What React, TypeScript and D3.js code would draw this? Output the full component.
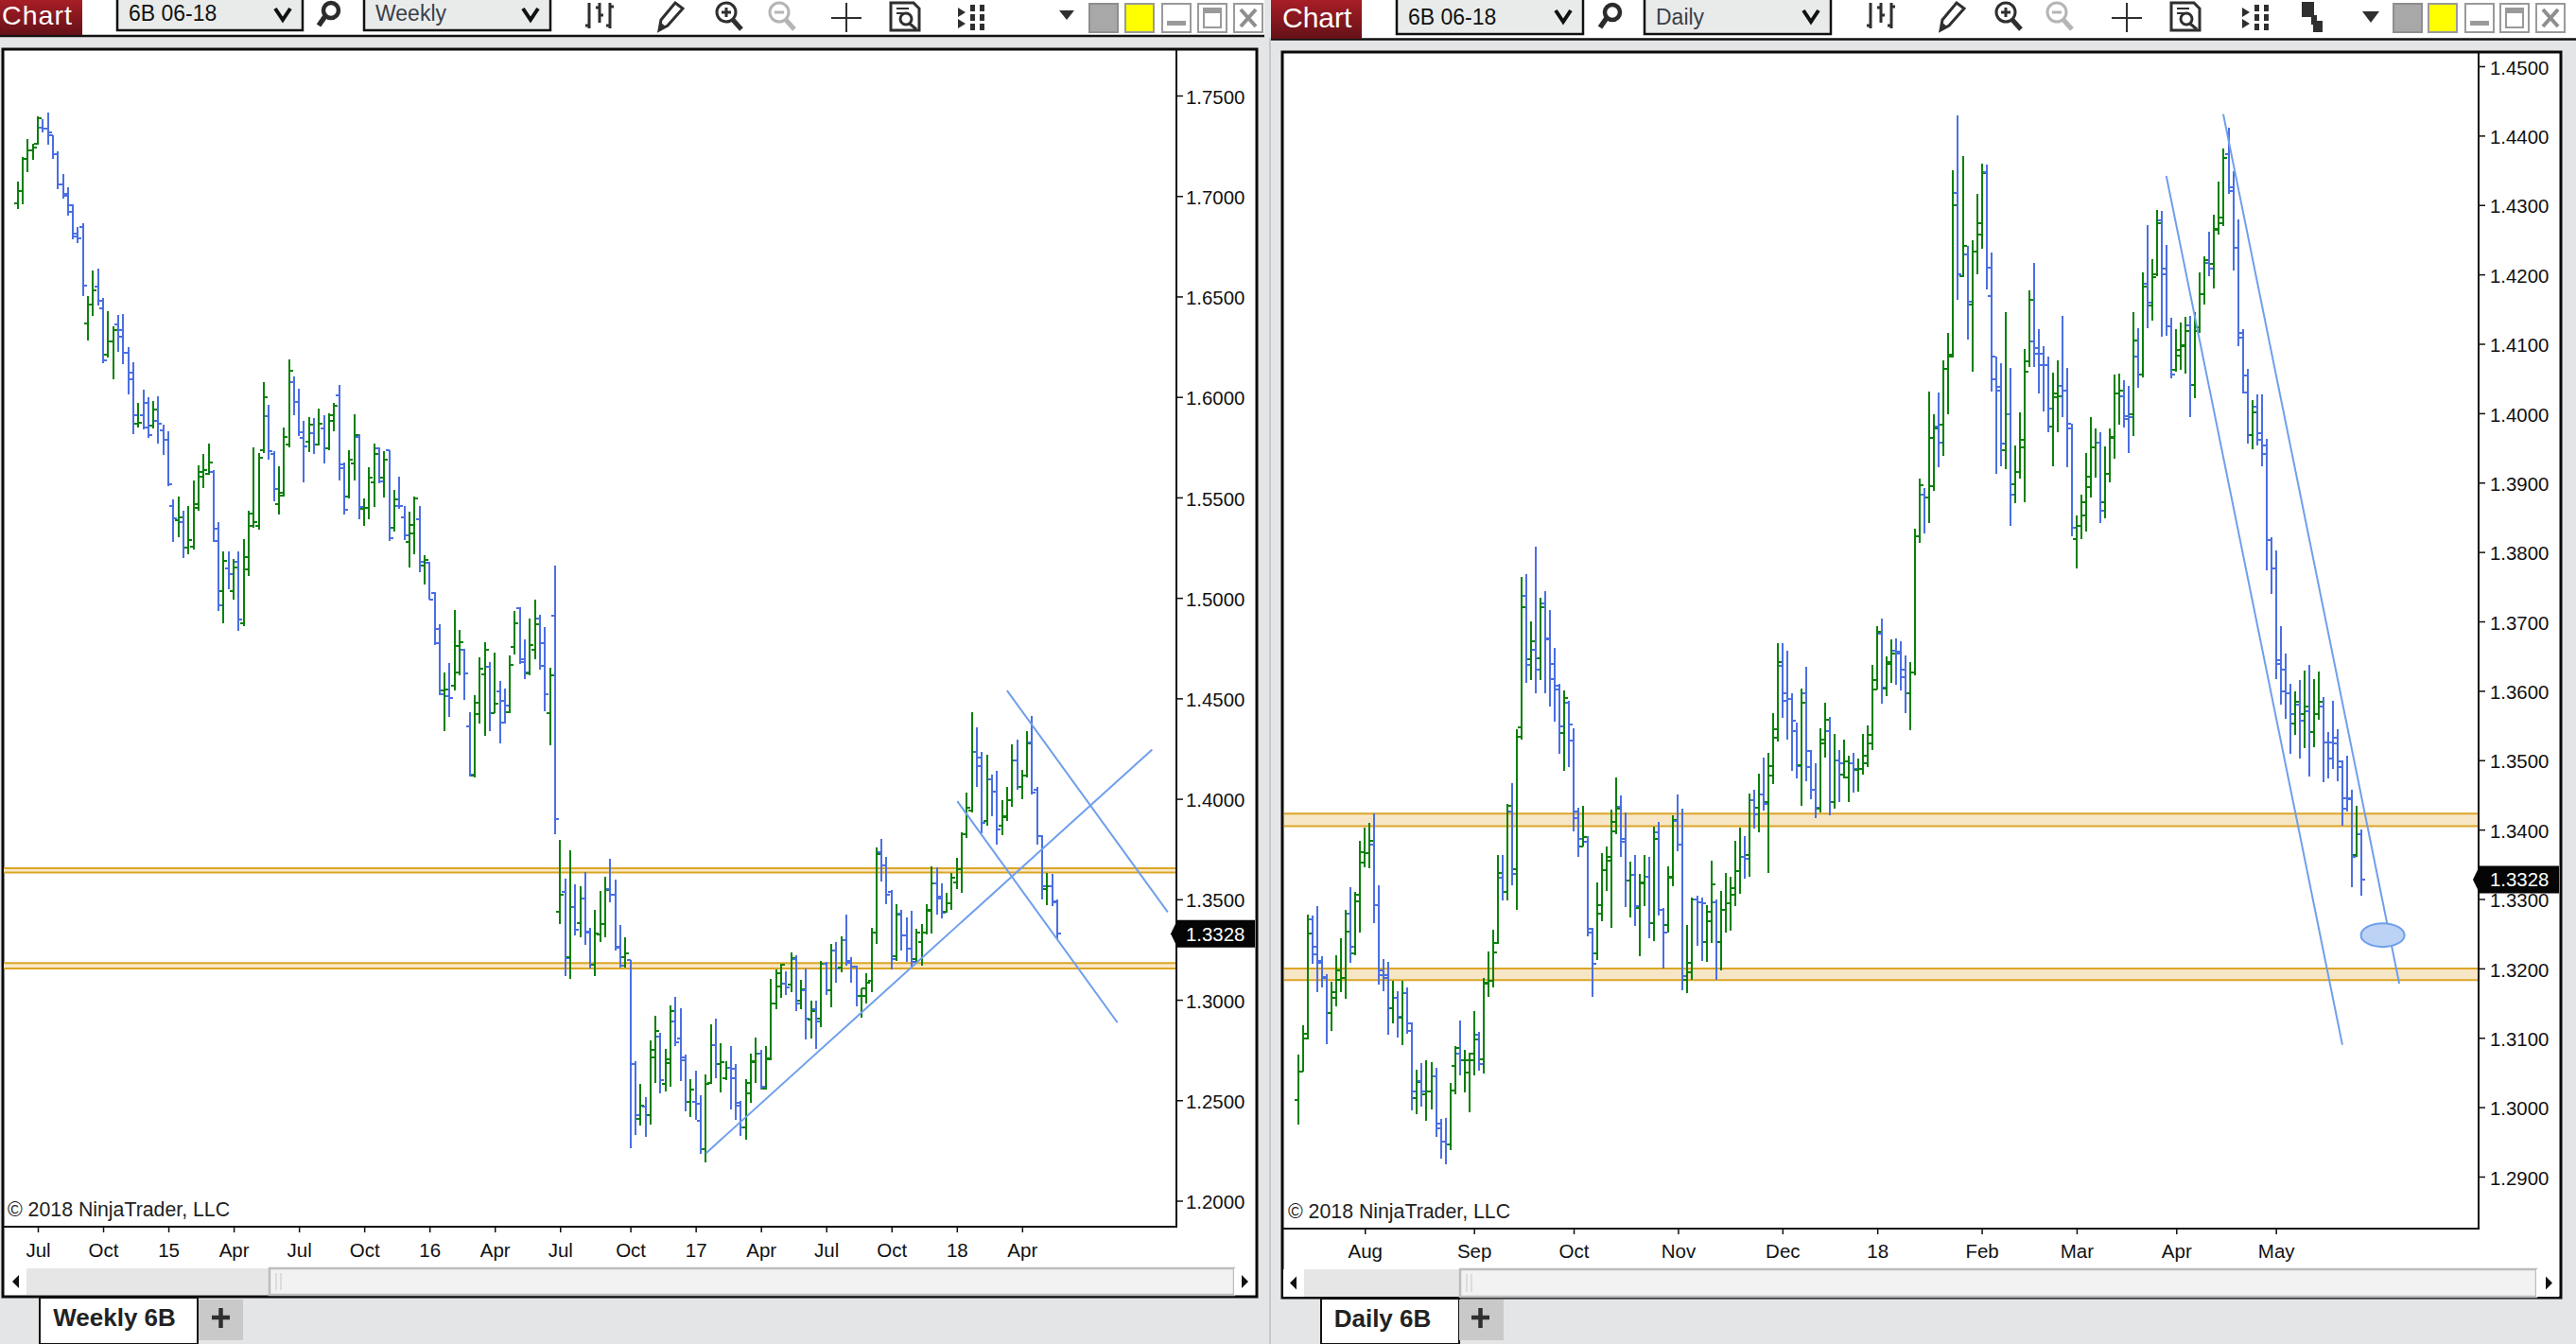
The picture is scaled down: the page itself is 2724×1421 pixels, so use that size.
import { useEffect, useRef } from 'react';
import * as d3 from 'd3';

// bars are [open, high, low, close]
const weeklyBars: number[][] = [
  [1.6963,1.7070,1.6937,1.7026],[1.7026,1.7196,1.6959,1.7186],[1.7186,1.7282,1.7120,1.7229],[1.7229,1.7262,1.7180,1.7243],
  [1.7260,1.7395,1.7257,1.7387],[1.7340,1.7384,1.7317,1.7335],[1.7335,1.7416,1.7254,1.7317],[1.7301,1.7304,1.7183,1.7207],
  [1.7207,1.7222,1.7034,1.7058],[1.7058,1.7108,1.6987,1.7000],[1.7010,1.7042,1.6900,1.6955],[1.6921,1.6960,1.6783,1.6811],
  [1.6798,1.6846,1.6764,1.6789],[1.6846,1.6864,1.6500,1.6555],[1.6367,1.6500,1.6280,1.6461],[1.6461,1.6630,1.6401,1.6532],
  [1.6550,1.6638,1.6453,1.6477],[1.6441,1.6495,1.6170,1.6181],[1.6210,1.6425,1.6194,1.6277],[1.6277,1.6350,1.6090,1.6335],
  [1.6362,1.6406,1.6225,1.6299],[1.6335,1.6411,1.6163,1.6221],[1.6221,1.6246,1.6013,1.6087],[1.6123,1.6175,1.5816,1.5908],
  [1.5867,1.5970,1.5849,1.5872],[1.5908,1.6034,1.5838,1.5849],[1.5971,1.5998,1.5794,1.5809],[1.5856,1.5979,1.5841,1.5938],
  [1.5883,1.6003,1.5767,1.5867],[1.5836,1.5864,1.5712,1.5789],[1.5789,1.5828,1.5555,1.5564],[1.5456,1.5492,1.5279,1.5397],
  [1.5386,1.5506,1.5302,1.5401],[1.5378,1.5436,1.5197,1.5249],[1.5249,1.5459,1.5217,1.5288],[1.5255,1.5582,1.5241,1.5467],
  [1.5448,1.5660,1.5436,1.5629],[1.5605,1.5718,1.5547,1.5637],[1.5616,1.5770,1.5613,1.5673],[1.5627,1.5634,1.5280,1.5283],
  [1.5343,1.5375,1.4935,1.4962],[1.5032,1.5233,1.4875,1.5185],[1.5145,1.5229,1.5043,1.5117],[1.5032,1.5192,1.4993,1.5150],
  [1.5180,1.5229,1.4836,1.4891],[1.4872,1.5294,1.4860,1.5203],[1.5142,1.5433,1.5108,1.5420],[1.5357,1.5747,1.5351,1.5376],
  [1.5357,1.5723,1.5338,1.5699],[1.5734,1.6076,1.5723,1.5998],[1.5904,1.5959,1.5689,1.5728],[1.5718,1.5728,1.5480,1.5542],
  [1.5467,1.5657,1.5414,1.5522],[1.5508,1.5846,1.5506,1.5800],[1.5762,1.6186,1.5750,1.6131],[1.6073,1.6100,1.5908,1.5974],
  [1.5974,1.6040,1.5805,1.5825],[1.5797,1.5883,1.5574,1.5754],[1.5778,1.5900,1.5726,1.5861],[1.5820,1.5896,1.5715,1.5762],
  [1.5762,1.5943,1.5759,1.5867],[1.5841,1.5907,1.5668,1.5743],[1.5743,1.5919,1.5734,1.5907],[1.5880,1.5971,1.5830,1.5955],
  [1.6009,1.6061,1.5585,1.5645],[1.5665,1.5676,1.5414,1.5437],[1.5503,1.5737,1.5495,1.5687],[1.5668,1.5916,1.5585,1.5809],
  [1.5802,1.5813,1.5390,1.5451],[1.5444,1.5495,1.5359,1.5448],[1.5448,1.5649,1.5390,1.5597],[1.5574,1.5770,1.5451,1.5715],
  [1.5745,1.5751,1.5571,1.5580],[1.5597,1.5732,1.5499,1.5687],[1.5734,1.5737,1.5283,1.5299],[1.5349,1.5535,1.5331,1.5491],
  [1.5458,1.5601,1.5444,1.5456],[1.5401,1.5456,1.5288,1.5312],[1.5279,1.5428,1.5150,1.5362],[1.5323,1.5506,1.5217,1.5495],
  [1.5390,1.5456,1.5128,1.5180],[1.5161,1.5213,1.5065,1.5189],[1.5177,1.5181,1.4990,1.4990],[1.5024,1.5029,1.4765,1.4776],
  [1.4844,1.4871,1.4517,1.4522],[1.4540,1.4627,1.4337,1.4542],[1.4509,1.4674,1.4407,1.4500],[1.4561,1.4941,1.4538,1.4761],
  [1.4629,1.4839,1.4613,1.4778],[1.4742,1.4748,1.4491,1.4622],[1.4360,1.4433,1.4111,1.4122],[1.4117,1.4517,1.4106,1.4478],
  [1.4420,1.4703,1.4373,1.4648],[1.4619,1.4781,1.4313,1.4742],[1.4659,1.4679,1.4337,1.4425],[1.4425,1.4726,1.4425,1.4472],
  [1.4535,1.4585,1.4275,1.4381],[1.4488,1.4550,1.4376,1.4462],[1.4431,1.4715,1.4428,1.4666],[1.4754,1.4936,1.4718,1.4874],
  [1.4949,1.4955,1.4671,1.4695],[1.4682,1.4792,1.4596,1.4627],[1.4624,1.4899,1.4616,1.4765],[1.4742,1.4993,1.4695,1.4867],
  [1.4896,1.4918,1.4644,1.4663],[1.4773,1.4856,1.4436,1.4519],[1.4425,1.4651,1.4266,1.4613],[1.4911,1.5163,1.3823,1.3899],
  [1.3437,1.3794,1.3378,1.3525],[1.3537,1.3605,1.3117,1.3208],[1.3211,1.3743,1.3105,1.3460],[1.3463,1.3576,1.3319,1.3348],
  [1.3383,1.3563,1.3309,1.3503],[1.3503,1.3635,1.3275,1.3336],[1.3340,1.3357,1.3156,1.3174],[1.3174,1.3446,1.3117,1.3331],
  [1.3326,1.3540,1.3288,1.3379],[1.3379,1.3611,1.3311,1.3545],[1.3551,1.3700,1.3486,1.3525],[1.3525,1.3600,1.3246,1.3258],
  [1.3266,1.3374,1.3160,1.3168],[1.3211,1.3309,1.3160,1.3232],[1.3199,1.3199,1.2260,1.2680],[1.2680,1.2692,1.2329,1.2426],
  [1.2406,1.2581,1.2375,1.2474],[1.2466,1.2517,1.2317,1.2428],[1.2426,1.2800,1.2380,1.2749],[1.2714,1.2920,1.2586,1.2843],
  [1.2817,1.2834,1.2534,1.2599],[1.2582,1.2754,1.2543,1.2702],[1.2685,1.2971,1.2565,1.2946],[1.2891,1.3014,1.2769,1.2788],
  [1.2808,1.2958,1.2594,1.2697],[1.2714,1.2726,1.2445,1.2491],[1.2491,1.2603,1.2418,1.2551],[1.2491,1.2646,1.2401,1.2483],
  [1.2397,1.2526,1.2234,1.2255],[1.2255,1.2629,1.2191,1.2582],[1.2586,1.2880,1.2582,1.2774],[1.2774,1.2908,1.2611,1.2680],
  [1.2680,1.2786,1.2538,1.2688],[1.2611,1.2692,1.2599,1.2663],[1.2663,1.2769,1.2452,1.2608],[1.2658,1.2680,1.2402,1.2474],
  [1.2488,1.2497,1.2323,1.2366],[1.2366,1.2603,1.2303,1.2586],[1.2534,1.2731,1.2486,1.2692],[1.2688,1.2814,1.2586,1.2731],
  [1.2731,1.2749,1.2551,1.2565],[1.2560,1.2769,1.2551,1.2702],[1.2709,1.3103,1.2697,1.2983],[1.2983,1.3151,1.2954,1.3131],
  [1.3066,1.3177,1.3011,1.3174],[1.3079,1.3143,1.3023,1.3062],[1.3074,1.3234,1.3040,1.3208],[1.3203,1.3223,1.2946,1.2983],
  [1.2994,1.3100,1.2951,1.3052],[1.3048,1.3156,1.2803,1.2908],[1.2903,1.2997,1.2808,1.2946],[1.2951,1.2994,1.2754,1.2894],
  [1.2908,1.3194,1.2865,1.3177],[1.3180,1.3189,1.3023,1.3048],[1.3048,1.3276,1.2963,1.3246],[1.3246,1.3285,1.3083,1.3155],
  [1.3160,1.3314,1.3138,1.3297],[1.3297,1.3422,1.3172,1.3182],[1.3194,1.3211,1.3083,1.3165],[1.3165,1.3168,1.2968,1.3019],
  [1.3019,1.3057,1.2911,1.3057],[1.3018,1.3134,1.2983,1.3086],[1.3095,1.3357,1.3040,1.3333],[1.3333,1.3759,1.3280,1.3723],
  [1.3734,1.3801,1.3589,1.3668],[1.3669,1.3713,1.3477,1.3525],[1.3537,1.3545,1.3151,1.3203],[1.3216,1.3474,1.3194,1.3426],
  [1.3429,1.3446,1.3246,1.3319],[1.3319,1.3408,1.3189,1.3254],[1.3254,1.3445,1.3166,1.3189],[1.3203,1.3354,1.3177,1.3336],
  [1.3288,1.3377,1.3172,1.3336],[1.3336,1.3476,1.3323,1.3446],[1.3445,1.3665,1.3330,1.3581],[1.3581,1.3657,1.3424,1.3511],
  [1.3503,1.3581,1.3406,1.3432],[1.3440,1.3534,1.3432,1.3479],[1.3479,1.3632,1.3448,1.3608],[1.3586,1.3704,1.3550,1.3652],
  [1.3652,1.3833,1.3531,1.3825],[1.3825,1.4029,1.3806,1.3958],[1.3942,1.4429,1.3931,1.4233],[1.4233,1.4358,1.4057,1.4206],
  [1.4162,1.4233,1.3828,1.3880],[1.3891,1.4217,1.3867,1.4096],[1.4096,1.4120,1.3911,1.4037],[1.4037,1.4137,1.3770,1.3848],
  [1.3867,1.3993,1.3820,1.3911],[1.3908,1.4057,1.3891,1.3994],[1.3994,1.4269,1.3961,1.4193],[1.4193,1.4296,1.4044,1.4057],
  [1.4057,1.4142,1.3997,1.4115],[1.4118,1.4335,1.4107,1.4275],[1.4280,1.4410,1.4021,1.4029],[1.4044,1.4060,1.3770,1.3814],
  [1.3814,1.3817,1.3500,1.3563],[1.3553,1.3633,1.3472,1.3563],[1.3563,1.3624,1.3464,1.3487],[1.3490,1.3500,1.3302,1.3328],
];

const dailyBars: number[][] = [
  [1.3010,1.3076,1.2975,1.3051],[1.3051,1.3118,1.3051,1.3106],[1.3099,1.3278,1.3098,1.3250],[1.3271,1.3276,1.3206,1.3231],
  [1.3220,1.3290,1.3166,1.3208],[1.3211,1.3217,1.3173,1.3186],[1.3188,1.3192,1.3091,1.3136],[1.3136,1.3181,1.3110,1.3166],
  [1.3157,1.3219,1.3145,1.3197],[1.3183,1.3244,1.3166,1.3186],[1.3186,1.3284,1.3156,1.3253],[1.3279,1.3317,1.3208,1.3231],
  [1.3222,1.3310,1.3219,1.3296],[1.3306,1.3384,1.3252,1.3367],[1.3353,1.3403,1.3346,1.3366],[1.3366,1.3410,1.3344,1.3384],
  [1.3379,1.3423,1.3265,1.3291],[1.3291,1.3320,1.3177,1.3197],[1.3190,1.3214,1.3167,1.3186],[1.3190,1.3209,1.3104,1.3142],
  [1.3142,1.3182,1.3121,1.3157],[1.3157,1.3167,1.3101,1.3130],[1.3129,1.3182,1.3090,1.3164],[1.3164,1.3173,1.3106,1.3110],
  [1.3121,1.3122,1.2996,1.3023],[1.3013,1.3054,1.2990,1.3036],[1.3037,1.3063,1.3001,1.3023],[1.3019,1.3068,1.2980,1.3023],
  [1.3023,1.3065,1.2997,1.3045],[1.3045,1.3057,1.2957,1.2970],[1.2977,1.2983,1.2926,1.2951],[1.2951,1.2984,1.2918,1.2947],
  [1.2946,1.3035,1.2938,1.3024],[1.3060,1.3088,1.3018,1.3085],[1.3077,1.3125,1.3046,1.3067],[1.3067,1.3083,1.3021,1.3068],
  [1.3050,1.3079,1.2993,1.3077],[1.3068,1.3139,1.3046,1.3098],[1.3105,1.3109,1.3053,1.3062],[1.3069,1.3186,1.3048,1.3178],
  [1.3180,1.3225,1.3159,1.3182],[1.3182,1.3256,1.3172,1.3223],[1.3237,1.3363,1.3235,1.3338],[1.3331,1.3363,1.3298,1.3310],
  [1.3310,1.3437,1.3298,1.3434],[1.3426,1.3467,1.3320,1.3336],[1.3343,1.3545,1.3285,1.3534],[1.3548,1.3764,1.3530,1.3720],
  [1.3737,1.3768,1.3612,1.3637],[1.3645,1.3700,1.3616,1.3671],[1.3659,1.3808,1.3597,1.3631],[1.3647,1.3734,1.3616,1.3720],
  [1.3726,1.3743,1.3596,1.3674],[1.3675,1.3717,1.3578,1.3639],[1.3617,1.3662,1.3555,1.3602],[1.3608,1.3610,1.3509,1.3549],
  [1.3539,1.3600,1.3484,1.3590],[1.3583,1.3585,1.3490,1.3551],[1.3528,1.3546,1.3397,1.3417],[1.3426,1.3431,1.3360,1.3386],
  [1.3376,1.3434,1.3375,1.3389],[1.3382,1.3391,1.3246,1.3257],[1.3251,1.3259,1.3159,1.3206],[1.3222,1.3324,1.3212,1.3291],
  [1.3279,1.3366,1.3268,1.3341],[1.3342,1.3375,1.3312,1.3361],[1.3355,1.3429,1.3258,1.3411],[1.3397,1.3475,1.3393,1.3430],
  [1.3433,1.3449,1.3360,1.3382],[1.3387,1.3425,1.3288,1.3327],[1.3327,1.3354,1.3274,1.3335],[1.3335,1.3363,1.3261,1.3290],
  [1.3287,1.3336,1.3218,1.3324],[1.3322,1.3363,1.3290,1.3332],[1.3332,1.3361,1.3244,1.3265],[1.3265,1.3404,1.3240,1.3386],
  [1.3396,1.3411,1.3276,1.3284],[1.3284,1.3287,1.3200,1.3252],[1.3262,1.3347,1.3251,1.3332],[1.3330,1.3420,1.3319,1.3414],
  [1.3413,1.3451,1.3369,1.3378],[1.3378,1.3430,1.3168,1.3189],[1.3183,1.3262,1.3164,1.3208],[1.3195,1.3302,1.3184,1.3299],
  [1.3299,1.3305,1.3233,1.3295],[1.3295,1.3302,1.3211,1.3294],[1.3238,1.3291,1.3209,1.3282],[1.3268,1.3355,1.3236,1.3321],
  [1.3295,1.3299,1.3184,1.3238],[1.3238,1.3311,1.3197,1.3285],[1.3285,1.3337,1.3252,1.3294],[1.3294,1.3332,1.3255,1.3315],
  [1.3306,1.3384,1.3290,1.3340],[1.3340,1.3403,1.3307,1.3360],[1.3360,1.3390,1.3329,1.3358],[1.3364,1.3452,1.3332,1.3442],
  [1.3442,1.3458,1.3402,1.3422],[1.3431,1.3481,1.3396,1.3451],[1.3451,1.3504,1.3428,1.3437],[1.3440,1.3510,1.3338,1.3492],
  [1.3478,1.3568,1.3465,1.3544],[1.3533,1.3668,1.3527,1.3642],[1.3636,1.3668,1.3561,1.3586],[1.3596,1.3658,1.3530,1.3588],
  [1.3588,1.3597,1.3485,1.3557],[1.3542,1.3554,1.3474,1.3491],[1.3493,1.3603,1.3434,1.3583],[1.3597,1.3635,1.3469,1.3490],
  [1.3513,1.3515,1.3444,1.3458],[1.3457,1.3495,1.3416,1.3431],[1.3430,1.3546,1.3425,1.3529],[1.3524,1.3583,1.3504,1.3558],
  [1.3542,1.3562,1.3420,1.3440],[1.3440,1.3538,1.3430,1.3499],[1.3499,1.3515,1.3440,1.3495],[1.3479,1.3529,1.3474,1.3498],
  [1.3475,1.3506,1.3440,1.3496],[1.3495,1.3510,1.3454,1.3487],[1.3486,1.3502,1.3455,1.3487],[1.3487,1.3538,1.3479,1.3506],
  [1.3496,1.3550,1.3490,1.3537],[1.3524,1.3637,1.3515,1.3615],[1.3602,1.3693,1.3602,1.3685],[1.3682,1.3704,1.3582,1.3605],
  [1.3603,1.3650,1.3592,1.3642],[1.3639,1.3674,1.3612,1.3654],[1.3658,1.3675,1.3609,1.3657],[1.3654,1.3671,1.3600,1.3620],
  [1.3630,1.3651,1.3568,1.3597],[1.3597,1.3642,1.3543,1.3627],[1.3627,1.3833,1.3622,1.3822],[1.3822,1.3906,1.3813,1.3896],
  [1.3883,1.3892,1.3827,1.3878],[1.3878,1.4031,1.3842,1.3965],[1.3895,1.3998,1.3888,1.3978],[1.3981,1.4030,1.3922,1.3958],
  [1.3984,1.4076,1.3939,1.4064],[1.4064,1.4115,1.3999,1.4084],[1.4082,1.4350,1.4080,1.4300],[1.4318,1.4429,1.4164,1.4200],
  [1.4198,1.4370,1.4196,1.4241],[1.4229,1.4241,1.4106,1.4161],[1.4156,1.4249,1.4060,1.4233],[1.4233,1.4316,1.4200,1.4274],
  [1.4258,1.4360,1.4237,1.4346],[1.4348,1.4358,1.4179,1.4210],[1.4169,1.4231,1.4031,1.4081],[1.4049,1.4081,1.3913,1.4038],
  [1.4032,1.4072,1.3924,1.3956],[1.3946,1.4146,1.3920,1.3998],[1.3998,1.4065,1.3837,1.3883],[1.3898,1.3954,1.3871,1.3916],
  [1.3916,1.4001,1.3906,1.3962],[1.3951,1.4092,1.3872,1.4060],[1.4075,1.4177,1.4066,1.4164],[1.4103,1.4217,1.4067,1.4094],
  [1.4086,1.4121,1.4029,1.4069],[1.4086,1.4097,1.4002,1.4069],[1.4069,1.4081,1.3972,1.4006],[1.3981,1.4059,1.3924,1.4028],
  [1.4023,1.4076,1.3972,1.4024],[1.4040,1.4140,1.3995,1.4032],[1.4032,1.4065,1.3922,1.3985],[1.3978,1.3985,1.3822,1.3835],
  [1.3818,1.3852,1.3776,1.3838],[1.3838,1.3882,1.3818,1.3872],[1.3853,1.3942,1.3829,1.3894],[1.3908,1.3995,1.3878,1.3951],
  [1.3951,1.3978,1.3907,1.3958],[1.3958,1.3972,1.3842,1.3859],[1.3872,1.3952,1.3848,1.3912],[1.3912,1.3978,1.3900,1.3966],
  [1.3965,1.4056,1.3934,1.4028],[1.4029,1.4057,1.3984,1.4033],[1.4024,1.4048,1.3979,1.3991],[1.3996,1.4039,1.3942,1.3995],
  [1.3999,1.4146,1.3967,1.4105],[1.4081,1.4122,1.4036,1.4056],[1.4056,1.4203,1.4051,1.4183],[1.4187,1.4271,1.4123,1.4159],
  [1.4155,1.4222,1.4133,1.4196],[1.4200,1.4293,1.4197,1.4274],[1.4278,1.4292,1.4110,1.4208],[1.4200,1.4243,1.4111,1.4125],
  [1.4125,1.4138,1.4050,1.4056],[1.4062,1.4121,1.4060,1.4091],[1.4083,1.4130,1.4062,1.4096],[1.4098,1.4139,1.4057,1.4118],
  [1.4127,1.4140,1.3995,1.4041],[1.4041,1.4146,1.4021,1.4124],[1.4118,1.4203,1.4115,1.4171],[1.4171,1.4226,1.4156,1.4220],
  [1.4216,1.4262,1.4197,1.4209],[1.4215,1.4286,1.4180,1.4265],[1.4264,1.4334,1.4257,1.4274],[1.4282,1.4381,1.4269,1.4368],
  [1.4373,1.4412,1.4316,1.4326],[1.4320,1.4349,1.4205,1.4238],[1.4239,1.4279,1.4097,1.4116],[1.4109,1.4121,1.4028,1.4054],
  [1.4030,1.4064,1.3956,1.3969],[1.3968,1.4019,1.3948,1.4001],[1.4009,1.4027,1.3953,1.3961],[1.3971,1.4027,1.3923,1.3941],
  [1.3954,1.3963,1.3774,1.3817],[1.3817,1.3821,1.3740,1.3776],[1.3776,1.3802,1.3617,1.3644],[1.3639,1.3693,1.3580,1.3599],
  [1.3630,1.3654,1.3559,1.3596],[1.3596,1.3610,1.3509,1.3566],[1.3553,1.3599,1.3537,1.3584],[1.3580,1.3616,1.3503,1.3557],
  [1.3566,1.3629,1.3518,1.3577],[1.3571,1.3637,1.3477,1.3540],[1.3540,1.3617,1.3519,1.3566],[1.3566,1.3628,1.3558,1.3584],
  [1.3577,1.3591,1.3468,1.3526],[1.3526,1.3540,1.3474,1.3503],[1.3526,1.3586,1.3488,1.3524],[1.3532,1.3545,1.3469,1.3490],
  [1.3498,1.3500,1.3406,1.3430],[1.3445,1.3506,1.3426,1.3444],[1.3445,1.3457,1.3317,1.3361],[1.3364,1.3434,1.3361,1.3394],
  [1.3393,1.3400,1.3305,1.3328],
];

const lastPrice = 1.3328;

const weeklyPrices = [1.2, 1.25, 1.3, 1.35, 1.4, 1.45, 1.5, 1.55, 1.6, 1.65, 1.7, 1.75];
const dailyPrices = [1.29, 1.3, 1.31, 1.32, 1.33, 1.34, 1.35, 1.36, 1.37, 1.38, 1.39, 1.4, 1.41, 1.42, 1.43, 1.44, 1.45];

const weeklyTickBars = [4, 17, 30, 43, 56, 69, 82, 95, 108, 122, 135, 148, 161, 174, 187, 200];
const weeklyTickLabels = ['Jul', 'Oct', '15', 'Apr', 'Jul', 'Oct', '16', 'Apr', 'Jul', 'Oct', '17', 'Apr', 'Jul', 'Oct', '18', 'Apr'];
const dailyTickBars = [14, 37, 58, 80, 102, 122, 144, 164, 185, 206];
const dailyTickLabels = ['Aug', 'Sep', 'Oct', 'Nov', 'Dec', '18', 'Feb', 'Mar', 'Apr', 'May'];

// support zones as [top, bottom] prices
const weeklyZones = [[1.3655, 1.3633], [1.3183, 1.3156]];
const dailyZones = [[1.3423, 1.3405], [1.32, 1.3183]];

// drawn lines as [bar, price, bar, price]
const weeklyTrends = [
  [137.07, 1.2237, 225.9, 1.4245],
  [187.1, 1.3988, 219, 1.2886],
  [197, 1.4539, 229, 1.3436],
];
const dailyTrends = [
  [182.9, 1.4342, 220, 1.309],
  [194.9, 1.4431, 232, 1.3178],
];
const dailyEllipse = [228.5, 1.3248];

const GREEN = '#0a8009';
const BLUE = '#4a6fe3';
const TREND = '#6f9fec';
const GOLD = '#dba526';
const FONT = '"Liberation Sans", Arial, sans-serif';
const INK = '#2f2f2f';

type PanelOpts = {
  bars: number[][];
  xDomain: number[];
  xRange: number[];
  yDomain: number[];
  yRange: number[];
  left: number;
  axisX: number;
  bottom: number;
  right: number;
  labelGap: number;
  xLabelGap: number;
  prices: number[];
  tickBars: number[];
  tickLabels: string[];
  zones: number[][];
  zoneFill: string;
  zoneWidth: number;
  trends: number[][];
};

function drawPanel(node: SVGGElement, o: PanelOpts) {
  const g = d3.select(node);
  g.selectAll('*').remove();
  const x = d3.scaleLinear().domain(o.xDomain).range(o.xRange);
  const y = d3.scaleLinear().domain(o.yDomain).range(o.yRange);

  // zones sit behind the bars
  o.zones.forEach((z) => {
    g.append('rect')
      .attr('x', o.left)
      .attr('width', o.axisX - o.left - 1)
      .attr('y', y(z[0]))
      .attr('height', y(z[1]) - y(z[0]))
      .attr('fill', o.zoneFill);
    z.forEach((p) => {
      g.append('line')
        .attr('x1', o.left)
        .attr('x2', o.axisX - 1)
        .attr('y1', y(p))
        .attr('y2', y(p))
        .attr('stroke', GOLD)
        .attr('stroke-width', o.zoneWidth);
    });
  });

  const bar = g.selectAll('g.bar').data(o.bars).enter().append('g')
    .attr('class', 'bar')
    .attr('stroke', (d: number[]) => (d[3] > d[0] ? GREEN : BLUE))
    .attr('stroke-width', 2)
    .attr('shape-rendering', 'crispEdges');
  bar.append('line')
    .attr('x1', (_d: number[], i: number) => x(i))
    .attr('x2', (_d: number[], i: number) => x(i))
    .attr('y1', (d: number[]) => y(d[1]))
    .attr('y2', (d: number[]) => y(d[2]));
  bar.append('line')
    .attr('x1', (_d: number[], i: number) => x(i) - 4)
    .attr('x2', (_d: number[], i: number) => x(i))
    .attr('y1', (d: number[]) => y(d[0]))
    .attr('y2', (d: number[]) => y(d[0]));
  bar.append('line')
    .attr('x1', (_d: number[], i: number) => x(i))
    .attr('x2', (_d: number[], i: number) => x(i) + 4)
    .attr('y1', (d: number[]) => y(d[3]))
    .attr('y2', (d: number[]) => y(d[3]));

  g.selectAll('line.trend').data(o.trends).enter().append('line')
    .attr('class', 'trend')
    .attr('x1', (d: number[]) => x(d[0]))
    .attr('y1', (d: number[]) => y(d[1]))
    .attr('x2', (d: number[]) => x(d[2]))
    .attr('y2', (d: number[]) => y(d[3]))
    .attr('stroke', TREND)
    .attr('stroke-width', 2);

  const yAxis = d3.axisRight(y)
    .tickValues(o.prices)
    .tickFormat((d: any) => d3.format('.4f')(d))
    .tickSize(7)
    .tickPadding(o.labelGap - 7);
  const ya = g.append('g').attr('transform', `translate(${o.axisX},0)`).call(yAxis);
  ya.select('.domain').remove();
  ya.selectAll('text').attr('font-size', 20.4).attr('font-family', FONT).attr('fill', '#111').attr('dy', '0.4em');
  ya.selectAll('line').attr('stroke', '#111').attr('stroke-width', 1.5);

  const xAxis = d3.axisBottom(x)
    .tickValues(o.tickBars)
    .tickFormat((_d: any, i: number) => o.tickLabels[i])
    .tickSize(6)
    .tickPadding(o.xLabelGap);
  const xa = g.append('g').attr('transform', `translate(0,${o.bottom})`).call(xAxis);
  xa.select('.domain').remove();
  xa.selectAll('text').attr('font-size', 20.5).attr('font-family', FONT).attr('fill', '#111');
  xa.selectAll('line').attr('stroke', '#111').attr('stroke-width', 1.5);

  // last price flag
  const ly = y(lastPrice);
  g.append('path')
    .attr('d', `M${o.axisX - 6},${ly} L${o.axisX + 1},${ly - 14.5} L${o.right},${ly - 14.5} L${o.right},${ly + 14.5} L${o.axisX + 1},${ly + 14.5} Z`)
    .attr('fill', '#050505');
  g.append('text')
    .attr('x', o.axisX + o.labelGap)
    .attr('y', ly + 7.5)
    .attr('font-size', 20.4)
    .attr('font-family', FONT)
    .attr('fill', '#fff')
    .text(d3.format('.4f')(lastPrice));

  return { x, y };
}

const Chevron = ({ x, y }: { x: number; y: number }) => (
  <path d={`M${x - 8},${y - 6} L${x},${y + 6} L${x + 8},${y - 6}`} fill="none" stroke="#111" strokeWidth={4} />
);

const Magnifier = ({ x, y }: { x: number; y: number }) => (
  <g stroke="#2b2b2b" fill="none">
    <circle cx={x + 3} cy={y - 3} r={8} strokeWidth={4.5} />
    <line x1={x - 3} y1={y + 3} x2={x - 10} y2={y + 13} strokeWidth={5.5} />
  </g>
);

const Select = ({ x, w, text, color, h }: { x: number; w: number; text: string; color: string; h: number }) => (
  <g>
    <rect x={x} y={-2} width={w} height={h + 2} fill="#e9ebea" stroke="#111" strokeWidth={2.5} />
    <text x={x + 12} y={h - 10} fontSize={23} fontFamily={FONT} fill={color}>{text}</text>
    <Chevron x={x + w - 21} y={h / 2 - 1} />
  </g>
);

const ZoomIcon = ({ x, color, minus }: { x: number; color: string; minus?: boolean }) => (
  <g stroke={color} fill="none">
    <circle cx={x - 3} cy={13} r={10} strokeWidth={3} />
    <line x1={x + 4} y1={21} x2={x + 13} y2={31} strokeWidth={5} />
    <line x1={x - 8} y1={13} x2={x + 2} y2={13} strokeWidth={3} />
    {!minus && <line x1={x - 3} y1={8} x2={x - 3} y2={18} strokeWidth={3} />}
  </g>
);

const BarsIcon = ({ x }: { x: number }) => (
  <g stroke={INK} strokeWidth={3} fill="none">
    <path d={`M${x - 11},3 V30 M${x - 15},27 H${x - 11} M${x},3 V24 M${x - 4},8 H${x} M${x},16 H${x + 4} M${x + 11},3 V30 M${x + 11},7 H${x + 15} M${x + 7},27 H${x + 11}`} />
  </g>
);

const Pencil = ({ x }: { x: number }) => (
  <g>
    <path d={`M${x - 12},32 L${x - 10},21 L${x + 5},3 L${x + 13},9 L${x - 3},27 Z`} fill="#fff" stroke={INK} strokeWidth={3} />
    <path d={`M${x - 12},32 L${x - 10},24 L${x - 5},28 Z`} fill={INK} />
  </g>
);

const Cross = ({ x }: { x: number }) => (
  <path d={`M${x - 16},19 H${x + 16} M${x},3 V34`} stroke={INK} strokeWidth={2} fill="none" />
);

const DocIcon = ({ x }: { x: number }) => (
  <g stroke={INK} fill="none">
    <path d={`M${x - 15},3 H${x + 9} L${x + 15},9 V32 H${x - 15} Z`} strokeWidth={3} />
    <path d={`M${x - 9},9 H${x + 4} M${x - 9},14 H${x + 2}`} strokeWidth={2} />
    <circle cx={x + 1} cy={20} r={6} strokeWidth={3} />
    <line x1={x + 5} y1={25} x2={x + 12} y2={31} strokeWidth={3} />
  </g>
);

const DotsIcon = ({ x }: { x: number }) => (
  <g fill={INK}>
    <path d={`M${x - 15},8 L${x - 7},13 L${x - 15},18 Z M${x - 15},20 L${x - 7},25 L${x - 15},30 Z`} />
    <rect x={x - 2} y={5} width={5} height={7} />
    <rect x={x + 8} y={5} width={5} height={7} />
    <rect x={x - 2} y={15} width={5} height={7} />
    <rect x={x + 8} y={15} width={5} height={7} />
    <rect x={x - 2} y={25} width={5} height={7} />
    <rect x={x + 8} y={25} width={5} height={7} />
  </g>
);

const StackIcon = ({ x }: { x: number }) => (
  <g fill={INK}>
    <rect x={x - 9} y={2} width={13} height={16} />
    <rect x={x + 1} y={16} width={6} height={10} />
    <rect x={x + 3} y={22} width={10} height={12} />
  </g>
);

const WindowButtons = ({ xs }: { xs: number[] }) => (
  <g>
    <rect x={xs[0] - 15} y={4} width={30} height={30} fill="#a8a8a8" stroke="#8e8e8e" strokeWidth={2} />
    <rect x={xs[1] - 15} y={4} width={30} height={30} fill="#ffff00" stroke="#9a9a9a" strokeWidth={2} />
    <rect x={xs[2] - 15} y={4} width={30} height={30} fill="#fff" stroke="#9a9a9a" strokeWidth={2} />
    <rect x={xs[2] - 10} y={22} width={20} height={5} fill="#9a9a9a" />
    <rect x={xs[3] - 15} y={4} width={30} height={30} fill="#fff" stroke="#9a9a9a" strokeWidth={2} />
    <rect x={xs[3] - 9} y={9} width={18} height={20} fill="#fff" stroke="#9a9a9a" strokeWidth={2} />
    <rect x={xs[3] - 9} y={9} width={18} height={5} fill="#9a9a9a" />
    <rect x={xs[4] - 15} y={4} width={30} height={30} fill="#fff" stroke="#9a9a9a" strokeWidth={2} />
    <path d={`M${xs[4] - 8},10 L${xs[4] + 8},28 M${xs[4] + 8},10 L${xs[4] - 8},28`} stroke="#8e8e8e" strokeWidth={4} />
  </g>
);

const ScrollBar = ({ left, right, top, bottom, thumb, thumbEnd }: { left: number; right: number; top: number; bottom: number; thumb: number; thumbEnd: number }) => (
  <g>
    <rect x={left} y={top} width={thumb - left} height={bottom - top} fill="#e6e6e6" />
    <rect x={left} y={top} width={22} height={bottom - top} fill="#fff" />
    <path d={`M${left + 14},${(top + bottom) / 2 - 7} L${left + 7},${(top + bottom) / 2} L${left + 14},${(top + bottom) / 2 + 7} Z`} fill="#111" />
    <rect x={thumb} y={top} width={thumbEnd - thumb} height={bottom - top} fill="#f2f2f2" stroke="#bdbdbd" strokeWidth={2.5} />
    <path d={`M${thumb + 7},${top + 5} V${bottom - 5} M${thumb + 12},${top + 5} V${bottom - 5}`} stroke="#d5d5d5" strokeWidth={1.5} />
    <rect x={thumbEnd} y={top} width={right - thumbEnd} height={bottom - top} fill="#fff" />
    <path d={`M${right - 14},${(top + bottom) / 2 - 7} L${right - 7},${(top + bottom) / 2} L${right - 14},${(top + bottom) / 2 + 7} Z`} fill="#111" />
  </g>
);

const App = () => {
  const weeklyRef = useRef<SVGGElement>(null);
  const dailyRef = useRef<SVGGElement>(null);

  useEffect(() => {
    drawPanel(weeklyRef.current as SVGGElement, {
      bars: weeklyBars,
      xDomain: [0, 207],
      xRange: [18.75, 1118],
      yDomain: [1.2, 1.75],
      yRange: [1269.5, 101],
      left: 4,
      axisX: 1244,
      bottom: 1297,
      right: 1327,
      labelGap: 10,
      xLabelGap: 11,
      prices: weeklyPrices,
      tickBars: weeklyTickBars,
      tickLabels: weeklyTickLabels,
      zones: weeklyZones,
      zoneFill: '#f9e8c8',
      zoneWidth: 2,
      trends: weeklyTrends,
    });
    const daily = drawPanel(dailyRef.current as SVGGElement, {
      bars: dailyBars,
      xDomain: [0, 224],
      xRange: [1373, 2497],
      yDomain: [1.29, 1.45],
      yRange: [1244, 70],
      left: 1358,
      axisX: 2621,
      bottom: 1299,
      right: 2706,
      labelGap: 12,
      xLabelGap: 10,
      prices: dailyPrices,
      tickBars: dailyTickBars,
      tickLabels: dailyTickLabels,
      zones: dailyZones,
      zoneFill: '#f7e6c6',
      zoneWidth: 2,
      trends: dailyTrends,
    });
    d3.select(dailyRef.current)
      .append('ellipse')
      .attr('cx', daily.x(dailyEllipse[0]))
      .attr('cy', daily.y(dailyEllipse[1]))
      .attr('rx', 23)
      .attr('ry', 12.5)
      .attr('fill', '#bcd3f5')
      .attr('stroke', TREND)
      .attr('stroke-width', 2);
  }, []);

  return (
    <svg width={2724} height={1421} style={{ position: 'absolute', left: 0, top: 0, display: 'block', background: '#e4e5e7' }}>
      <defs>
        <linearGradient id="tabRed" x1="0" y1="0" x2="0" y2="1">
          <stop offset="0" stopColor="#a81e26" />
          <stop offset="1" stopColor="#641117" />
        </linearGradient>
      </defs>

      <line x1={1343} x2={1343} y1={40} y2={1421} stroke="#c8c8c8" strokeWidth={2} />

      {/* weekly window */}
      <rect x={0} y={0} width={1337} height={37} fill="#fff" />
      <line x1={0} x2={1337} y1={38} y2={38} stroke="#111" strokeWidth={2.5} />
      <rect x={0} y={0} width={87} height={37} fill="url(#tabRed)" />
      <text x={2} y={26} fontSize={28.5} fontFamily={FONT} fill="#fff" textLength={74}>Chart</text>
      <Select x={124} w={196} text="6B 06-18" color="#111" h={32} />
      <Magnifier x={347} y={14} />
      <Select x={385} w={197} text="Weekly" color="#3a3f48" h={32} />
      <BarsIcon x={634} />
      <Pencil x={709} />
      <ZoomIcon x={771} color={INK} />
      <ZoomIcon x={827} color="#b5b5b5" minus />
      <Cross x={895} />
      <DocIcon x={957} />
      <DotsIcon x={1028} />
      <path d="M1120,11 L1136,11 L1128,21 Z" fill={INK} />
      <WindowButtons xs={[1167, 1205, 1244, 1282, 1320]} />

      <rect x={3} y={52} width={1326} height={1319} fill="#fff" stroke="#0a0a0a" strokeWidth={3} />
      <path d="M3,1297 H1244 V52" fill="none" stroke="#111" strokeWidth={2} />
      <text x={8} y={1286} fontSize={21.3} fontFamily={FONT} fill="#222">© 2018 NinjaTrader, LLC</text>
      <ScrollBar left={6} right={1327} top={1341} bottom={1369} thumb={285} thumbEnd={1305} />
      <g ref={weeklyRef} />
      <rect x={42} y={1372} width={167} height={49} fill="#fff" stroke="#111" strokeWidth={2} />
      <text x={121} y={1402} textAnchor="middle" fontSize={26} fontWeight="bold" fontFamily={FONT} fill="#222">Weekly 6B</text>
      <rect x={210} y={1374} width={47} height={43} fill="#c9c9c9" />
      <path d="M224,1393 H243 M233.5,1383 V1404" stroke={INK} strokeWidth={4.5} />

      {/* daily window */}
      <rect x={1344} y={0} width={1380} height={41} fill="#fff" />
      <line x1={1344} x2={2724} y1={41.5} y2={41.5} stroke="#111" strokeWidth={2.5} />
      <rect x={1344} y={0} width={96} height={41} fill="url(#tabRed)" />
      <text x={1356} y={29} fontSize={30} fontFamily={FONT} fill="#fff">Chart</text>
      <Select x={1477} w={197} text="6B 06-18" color="#111" h={36} />
      <Magnifier x={1702} y={16} />
      <Select x={1739} w={197} text="Daily" color="#3a3f48" h={36} />
      <BarsIcon x={1989} />
      <Pencil x={2064} />
      <ZoomIcon x={2124} color={INK} />
      <ZoomIcon x={2178} color="#b5b5b5" minus />
      <Cross x={2249} />
      <DocIcon x={2311} />
      <DotsIcon x={2386} />
      <StackIcon x={2443} />
      <path d="M2498,12 L2516,12 L2507,24 Z" fill={INK} />
      <WindowButtons xs={[2546, 2583, 2622, 2659, 2697]} />

      <rect x={1356} y={55} width={1352} height={1317} fill="#fff" stroke="#0a0a0a" strokeWidth={3} />
      <path d="M1356,1299 H2621 V55" fill="none" stroke="#111" strokeWidth={2} />
      <text x={1362} y={1288} fontSize={21.3} fontFamily={FONT} fill="#222">© 2018 NinjaTrader, LLC</text>
      <ScrollBar left={1357} right={2706} top={1342} bottom={1371} thumb={1544} thumbEnd={2682} />
      <g ref={dailyRef} />
      <rect x={1397} y={1373} width={146} height={48} fill="#fff" stroke="#111" strokeWidth={2} />
      <text x={1462} y={1403} textAnchor="middle" fontSize={26} fontWeight="bold" fontFamily={FONT} fill="#222">Daily 6B</text>
      <rect x={1543} y={1374} width={47} height={43} fill="#c9c9c9" />
      <path d="M1556,1393 H1575 M1565.5,1383 V1404" stroke={INK} strokeWidth={4.5} />
    </svg>
  );
};

export default App;
